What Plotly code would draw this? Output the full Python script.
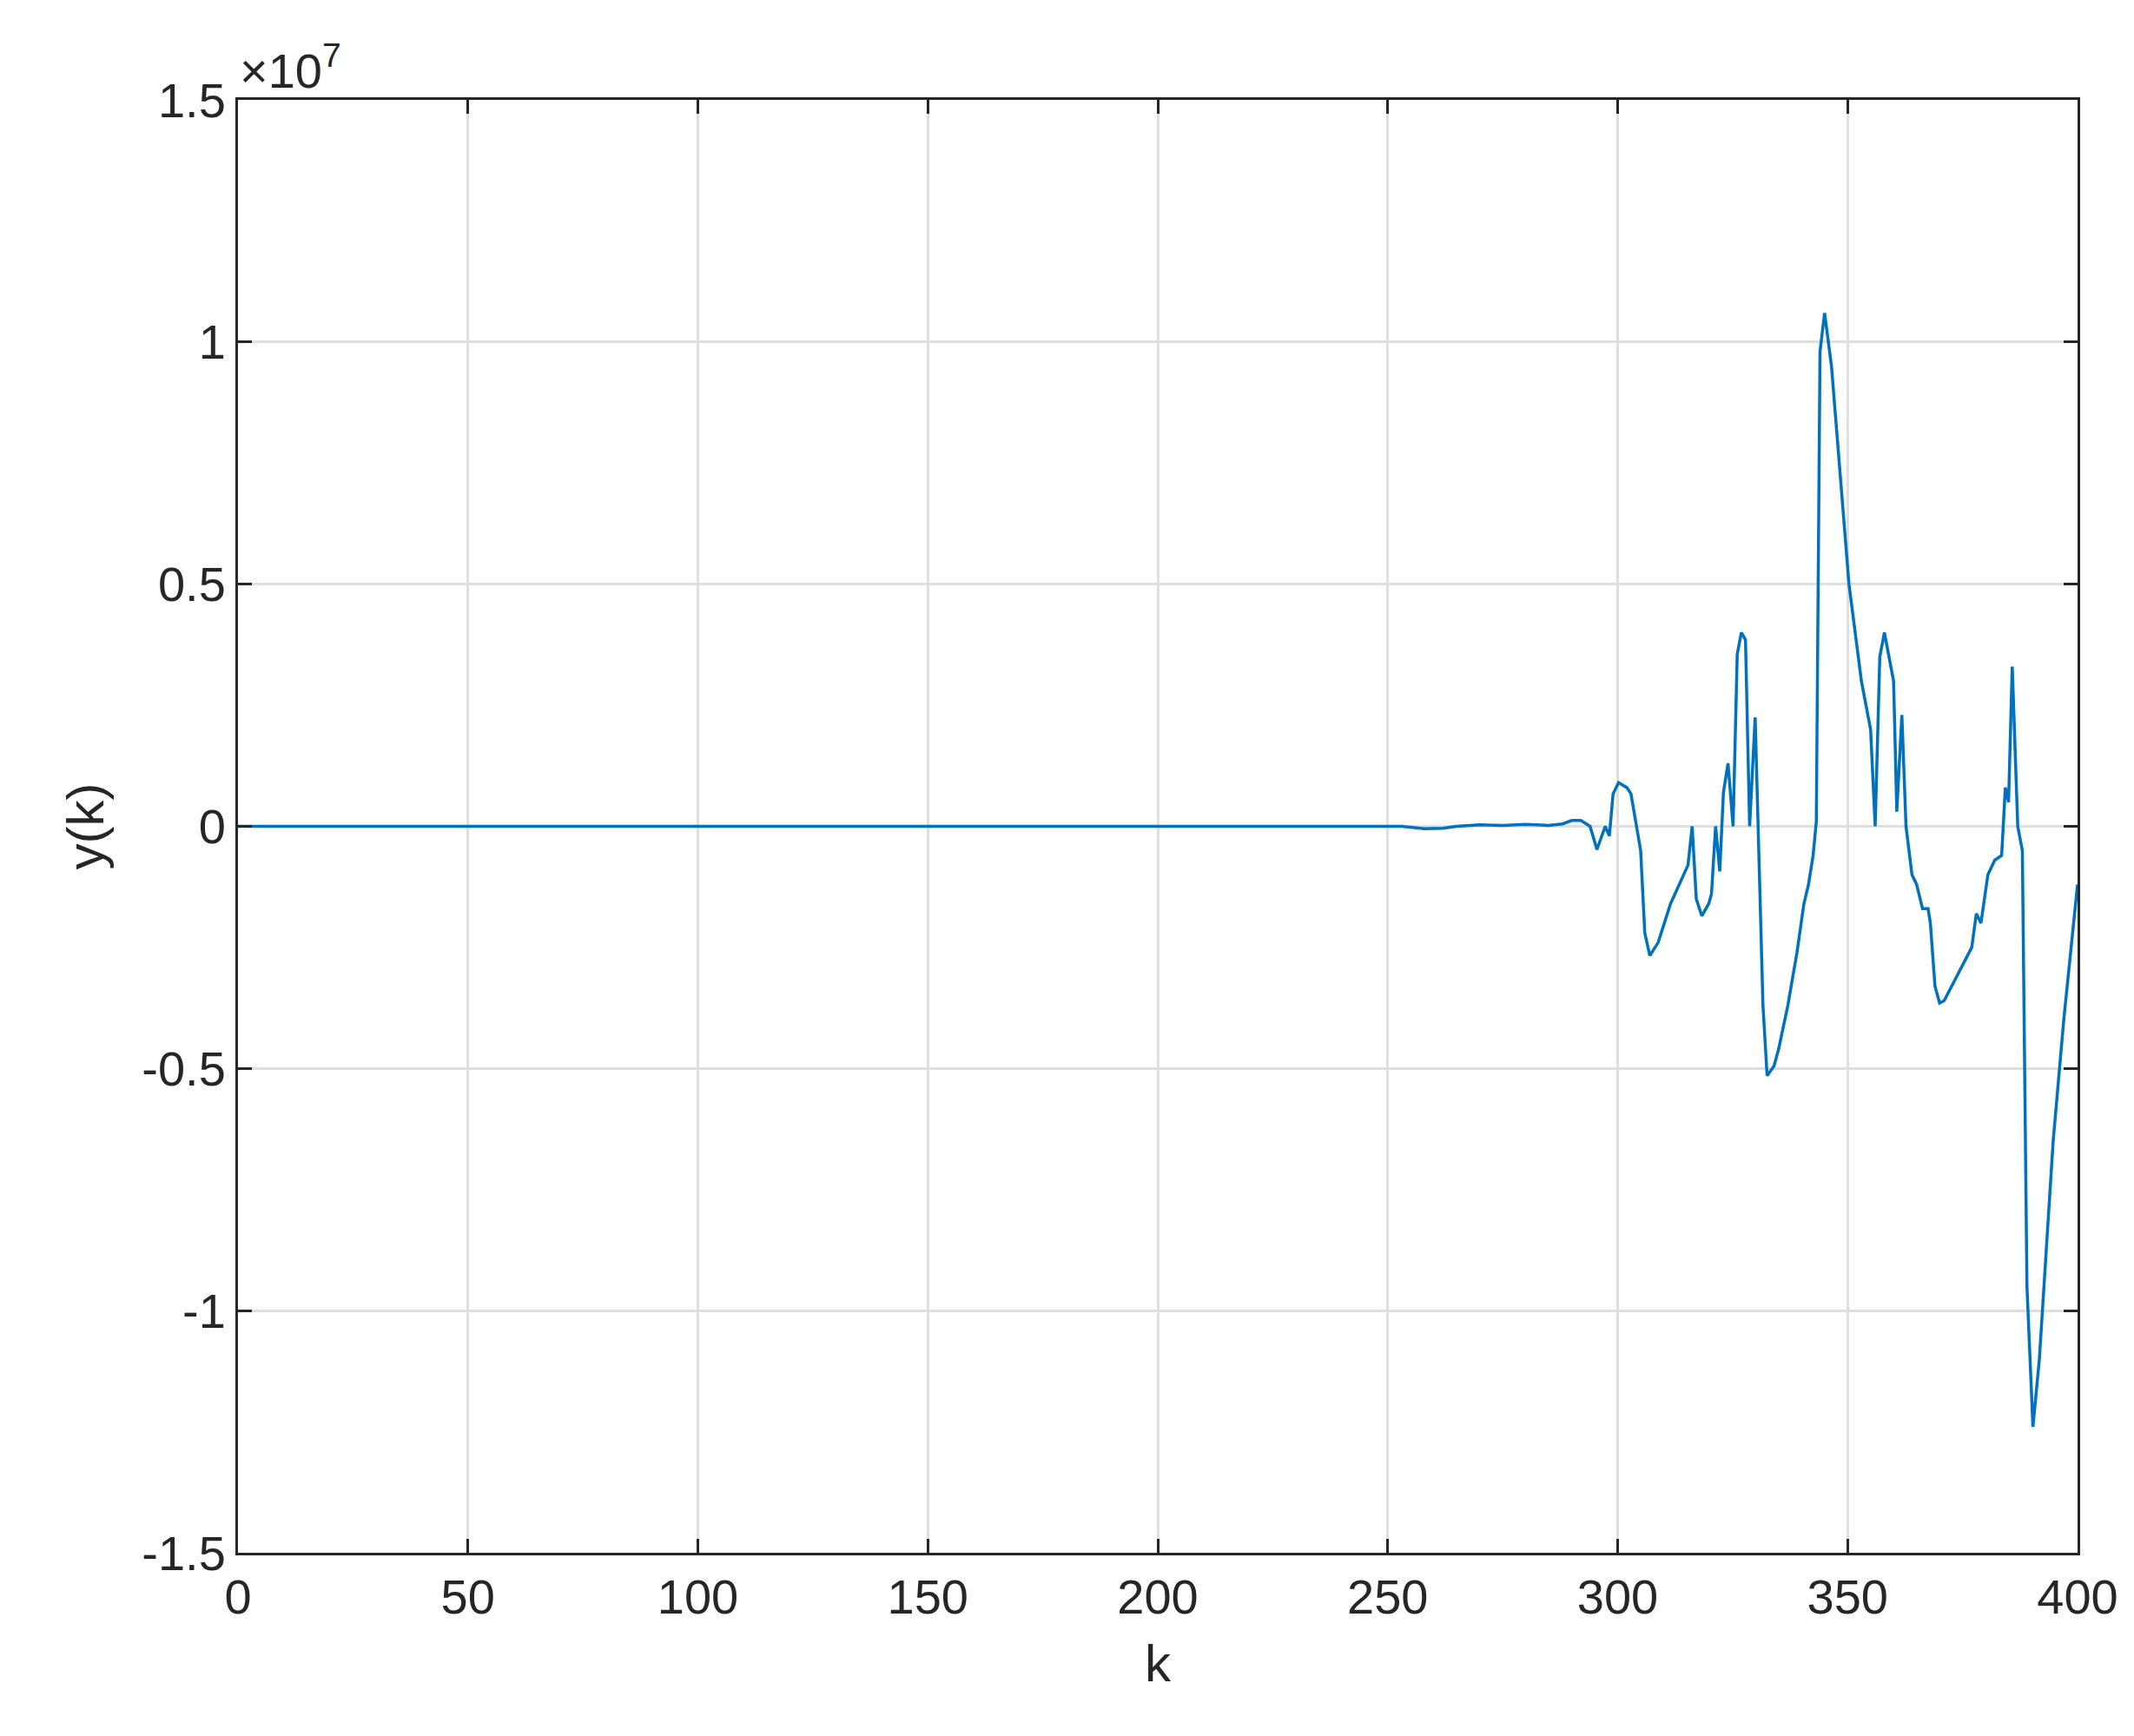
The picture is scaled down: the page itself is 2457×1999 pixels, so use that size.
import plotly.graph_objects as go

k = [0, 253, 258, 262, 265, 270, 275, 280, 285, 288,
     290, 292, 294, 295.5, 297.3, 298.2, 299, 300.2, 302, 302.9,
     305, 305.9, 307, 308.8, 311.5, 314.5, 315.3, 316.2, 317.1, 318.3,
     319.8, 320.4, 321.3, 322.2, 323, 324, 325.1, 326, 326.9, 327.8,
     328.7, 329.9, 330.7, 331.6, 332.5, 334, 335, 337, 339, 340.5,
     341.5, 342.5, 343.2, 344, 345, 346.5, 350.3, 353, 355, 356,
     357, 358, 360, 360.7, 361.8, 362.7, 364, 365, 366.3, 367.5,
     368, 369, 370, 371, 377, 378, 379, 380.5, 382, 383.5,
     384.3, 385, 385.8, 387, 388, 389, 390.3, 391.7, 394.7, 397,
     400]
y_e6 = [0, 0, -0.05, -0.04, 0, 0.03, 0.02, 0.04, 0.02, 0.05,
        0.12, 0.12, 0, -0.48, 0, -0.2, 0.67, 0.9, 0.8, 0.67,
        -0.5, -2.2, -2.67, -2.4, -1.6, -0.95, -0.8, 0, -1.5, -1.85,
        -1.6, -1.4, 0, -0.93, 0.7, 1.3, 0, 3.55, 4.0, 3.85,
        0, 2.25, -0.5, -3.7, -5.15, -4.95, -4.6, -3.7, -2.6, -1.6,
        -1.2, -0.6, 0.1, 9.8, 10.6, 9.5, 5.0, 3.0, 2.0, 0,
        3.5, 4.0, 3.0, 0.3, 2.3, 0, -1.0, -1.2, -1.7, -1.7,
        -2.0, -3.3, -3.65, -3.6, -2.5, -1.8, -2.0, -1.0, -0.7, -0.6,
        0.8, 0.5, 3.3, 0, -0.5, -9.5, -12.4, -11.0, -6.5, -4.0,
        -1.2]
y = [v * 1e6 for v in y_e6]

xticks = [0, 50, 100, 150, 200, 250, 300, 350, 400]
yticks = [-1.5e7, -1e7, -0.5e7, 0, 0.5e7, 1e7, 1.5e7]
yticklabels = ["-1.5", "-1", "-0.5", "0", "0.5", "1", "1.5"]

font = "Liberation Sans, Arial, sans-serif"
fig = go.Figure(go.Scatter(x=k, y=y, mode="lines", line=dict(color="#0072BD", width=3.5)))
ax = dict(showline=True, linecolor="#262626", linewidth=3, mirror="ticks", ticks="inside",
          ticklen=16, tickwidth=3, tickcolor="#262626", showgrid=True, gridcolor="#dfdfdf",
          gridwidth=3, zeroline=False, tickfont=dict(size=56, color="#262626", family=font))
fig.update_xaxes(range=[0, 400], tickvals=xticks,
                 title=dict(text="k", font=dict(size=60, family=font, color="#262626"), standoff=25), **ax)
fig.update_yaxes(range=[-1.5e7, 1.5e7], tickvals=yticks, ticktext=yticklabels,
                 title=dict(text="y(k)", font=dict(size=60, family=font, color="#262626"), standoff=25), **ax)
fig.add_annotation(xref="paper", yref="paper", x=0, y=1, xanchor="left", yanchor="bottom",
                   text="×10<sup>7</sup>", showarrow=False, font=dict(size=56, family=font, color="#262626"))
fig.update_layout(width=2457, height=1999, plot_bgcolor="white", paper_bgcolor="white",
                  margin=dict(l=266, r=73, t=107, b=219), showlegend=False)
fig.write_html("out.html")
